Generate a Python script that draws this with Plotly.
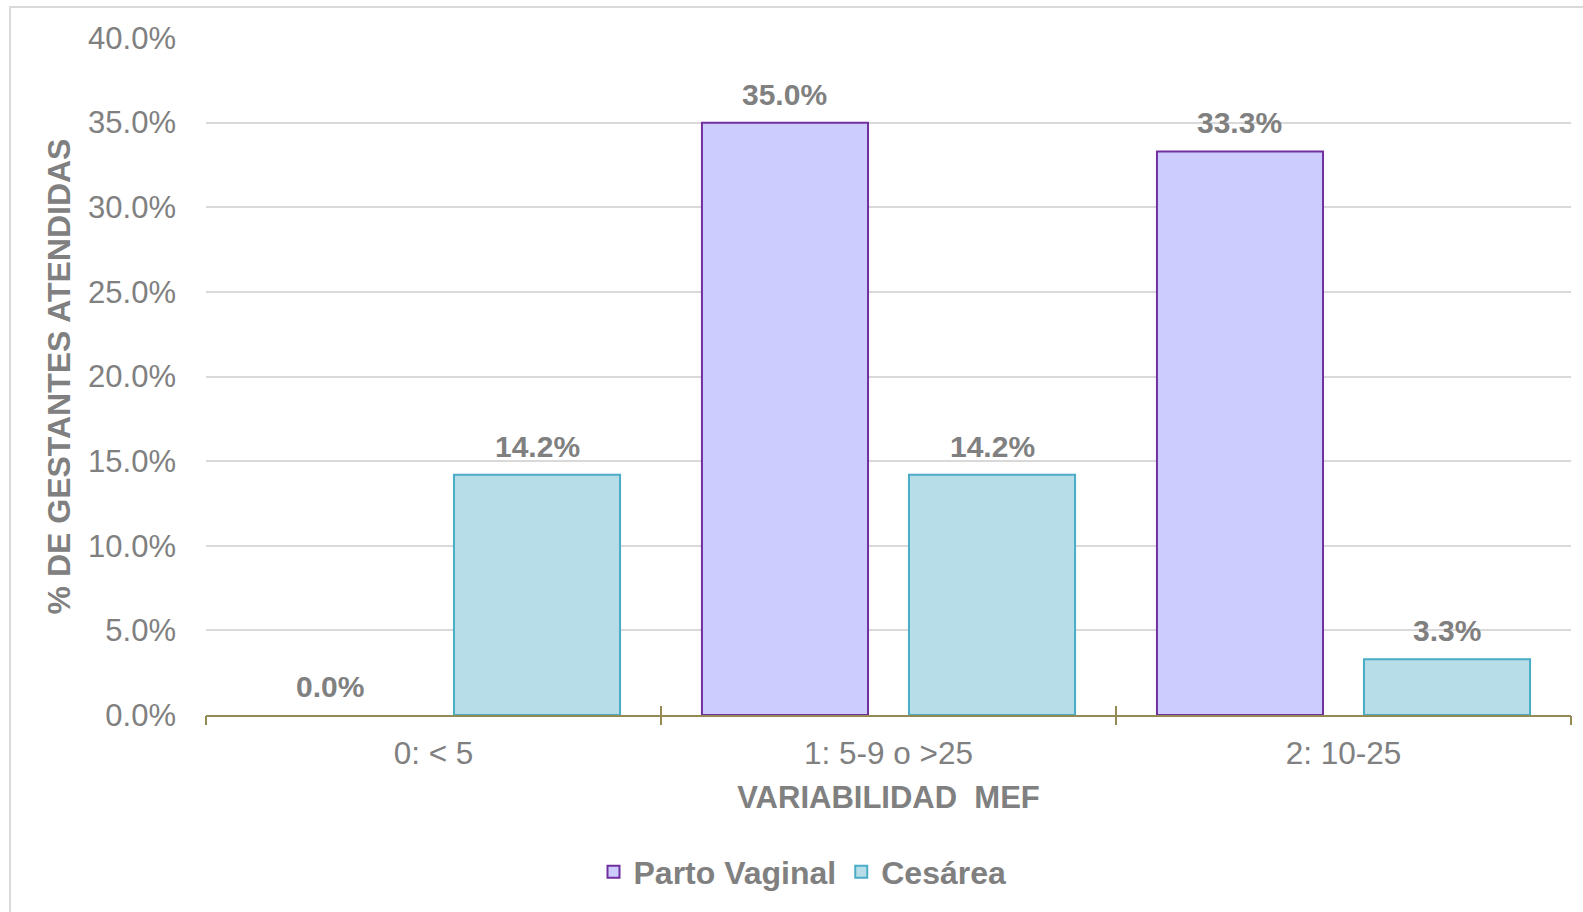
import plotly.graph_objects as go

# Data
categories = ["0: < 5", "1: 5-9 o >25", "2: 10-25"]
parto_vaginal = [0.0, 35.0, 33.3]
cesarea = [14.2, 14.2, 3.3]
y_ticks = [0, 5, 10, 15, 20, 25, 30, 35, 40]

FONT = "Arial, 'Liberation Sans', sans-serif"
GRAY = "#808080"
AXIS_OLIVE = "#948A54"

# bar layout inside each category slot (category units)
GAP = 0.09
BAR_W = 0.365
PV_OFFSET = -0.5 + GAP
CE_OFFSET = PV_OFFSET + BAR_W + GAP

xs = list(range(len(categories)))

series_styles = [
    ("Parto Vaginal", parto_vaginal, PV_OFFSET, "#CCCCFF", "#7030A0"),
    ("Cesárea", cesarea, CE_OFFSET, "#B7DEE8", "#4BACC6"),
]

fig = go.Figure()
for name, values, off, fill, edge in series_styles:
    # a zero-height bar gets no outline
    widths = [0 if v == 0 else 2 for v in values]
    fig.add_trace(go.Bar(
        x=xs, y=values, name=name, legendgroup=name, showlegend=False,
        offset=off, width=BAR_W,
        marker=dict(color=fill, line=dict(color=edge, width=widths)),
    ))
for name, values, off, fill, edge in series_styles:
    # legend entry with the full outline style
    fig.add_trace(go.Bar(
        x=[None], y=[None], name=name, legendgroup=name, showlegend=True,
        marker=dict(color=fill, line=dict(color=edge, width=2)),
    ))
# empty traces so the tick-only overlay axes get drawn
for ax in ("x2", "x3"):
    fig.add_trace(go.Scatter(x=[], y=[], xaxis=ax, yaxis="y",
                             showlegend=False, hoverinfo="skip"))

# value labels above each bar
annotations = []
for name, values, off, fill, edge in series_styles:
    for i, v in enumerate(values):
        annotations.append(dict(
            x=i + off + BAR_W / 2, y=v, xref="x", yref="y",
            text=f"{v:.1f}%", showarrow=False,
            yanchor="bottom", yshift=10,
            font=dict(family=FONT, size=30, color=GRAY, weight="bold"),
        ))

boundaries = [i - 0.5 for i in range(len(categories) + 1)]
x_range = [-0.5, len(categories) - 0.5]

tick_axis = dict(
    overlaying="x", anchor="y", side="bottom", range=x_range,
    tickvals=boundaries, ticklen=9, tickwidth=2,
    tickcolor=AXIS_OLIVE, showticklabels=False, showgrid=False,
    zeroline=False, showline=False, layer="above traces",
)

fig.update_layout(
    width=1583, height=912, autosize=False,
    margin=dict(l=206, r=12, t=38, b=197),
    paper_bgcolor="white", plot_bgcolor="white",
    barmode="overlay",
    showlegend=True,
    legend=dict(
        orientation="h", x=0.437, xanchor="center", y=-0.232, yanchor="middle",
        font=dict(family=FONT, size=32, color=GRAY, weight="bold"),
        itemwidth=30, tracegroupgap=0,
    ),
    xaxis=dict(
        range=x_range, tickvals=xs, ticktext=categories,
        ticks="", showgrid=False, zeroline=False,
        showline=True, linecolor=AXIS_OLIVE, linewidth=2,
        layer="above traces",
        tickfont=dict(family=FONT, size=31.5, color=GRAY),
        ticklabelstandoff=9,
        title=dict(text="VARIABILIDAD  MEF", standoff=17,
                   font=dict(family=FONT, size=31, color=GRAY, weight="bold")),
        fixedrange=True,
    ),
    xaxis2=dict(tick_axis, ticks="outside"),
    xaxis3=dict(tick_axis, ticks="inside"),
    yaxis=dict(
        range=[0, 40], tickvals=y_ticks,
        ticktext=[f"{v:.1f}%" for v in y_ticks],
        ticks="", showline=False, zeroline=False,
        showgrid=True, gridcolor="#D9D9D9", gridwidth=2,
        tickfont=dict(family=FONT, size=31, color=GRAY),
        ticklabelstandoff=29,
        title=dict(text="% DE GESTANTES ATENDIDAS", standoff=7,
                   font=dict(family=FONT, size=32, color=GRAY, weight="bold")),
    ),
    annotations=annotations,
    shapes=[dict(
        type="rect", xref="paper", yref="paper",
        x0=(10 - 206) / 1365, x1=(1600 - 206) / 1365,
        y0=(715 - 930) / 677, y1=(715 - 7) / 677,
        line=dict(color="#D9D9D9", width=2), fillcolor="rgba(0,0,0,0)",
        layer="below",
    )],
)

fig.write_html("out.html")
